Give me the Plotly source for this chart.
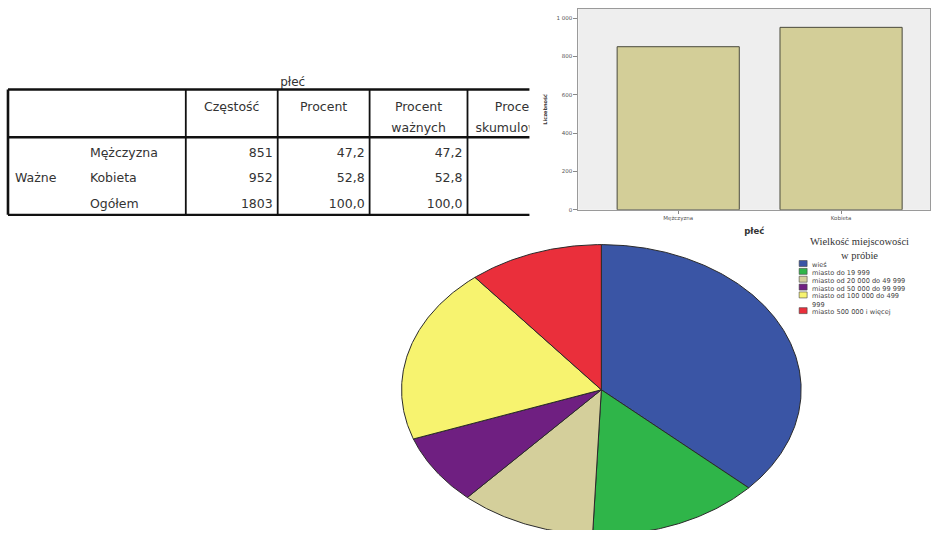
import textwrap
import numpy as np
import plotly.graph_objects as go

# ---------------- data ----------------
table_title = "płeć"
group_label = "Ważne"
row_labels = ["Mężczyzna", "Kobieta", "Ogółem"]
header_line1 = ["Częstość", "Procent", "Procent", "Procent"]
header_line2 = ["", "", "ważnych", "skumulowany"]
frequency = ["851", "952", "1803"]
percent = ["47,2", "52,8", "100,0"]
valid_percent = ["47,2", "52,8", "100,0"]

bar_categories = ["Mężczyzna", "Kobieta"]
bar_counts = [851, 952]
bar_y_ticks = [0, 200, 400, 600, 800, 1000]
bar_x_title = "płeć"
bar_y_title = "Liczebność"

pie_title = "Wielkość miejscowości<br>w próbie"
pie_categories = [
    "wieś",
    "miasto do 19 999",
    "miasto od 20 000 do 49 999",
    "miasto od 50 000 do 99 999",
    "miasto od 100 000 do 499 999",
    "miasto 500 000 i więcej",
]
pie_shares = [36.8, 13.9, 11.0, 7.8, 19.6, 10.9]
pie_colors = ["#3a55a5", "#2fb549", "#d4cf9b", "#6f1f81", "#f7f36f", "#ea2f3b"]

# ---------------- layout constants (pixels) ----------------
W, H = 931, 533
TFONT = "DejaVu Sans"
TCOL = "#333333"
col_edges = [186, 278, 370, 468, 570]          # table column boundaries
row_y = [155, 180, 206]                         # table body rows
hdr_y = [108, 130]                              # header text lines
tbl_top, tbl_hdr, tbl_bot, tbl_left = 90, 138, 216, 8

fig = go.Figure()

# ---------------- table (xaxis3 / yaxis3, pixel units) ----------------
col_centers = [(col_edges[i] + col_edges[i + 1]) / 2 for i in range(4)]
for line, yy in zip([header_line1, header_line2], hdr_y):
    fig.add_trace(go.Scatter(
        x=col_centers, y=[yy] * 4, text=line, mode="text",
        textposition="middle center", xaxis="x3", yaxis="y3",
        textfont=dict(family=TFONT, size=12.5, color=TCOL),
        hoverinfo="skip", showlegend=False))
fig.add_trace(go.Scatter(
    x=[90] * 3, y=row_y, text=row_labels, mode="text",
    textposition="middle right", xaxis="x3", yaxis="y3",
    textfont=dict(family=TFONT, size=12.5, color=TCOL),
    hoverinfo="skip", showlegend=False))
fig.add_trace(go.Scatter(
    x=[15], y=[row_y[1]], text=[group_label], mode="text",
    textposition="middle right", xaxis="x3", yaxis="y3",
    textfont=dict(family=TFONT, size=12.5, color=TCOL),
    hoverinfo="skip", showlegend=False))
for ci, col in enumerate([frequency, percent, valid_percent]):
    fig.add_trace(go.Scatter(
        x=[col_edges[ci + 1] - 5] * 3, y=row_y, text=col, mode="text",
        textposition="middle left", xaxis="x3", yaxis="y3",
        textfont=dict(family=TFONT, size=12.5, color=TCOL),
        hoverinfo="skip", showlegend=False))
fig.add_trace(go.Scatter(
    x=[293], y=[83], text=[table_title], mode="text",
    textposition="middle center", xaxis="x3", yaxis="y3",
    textfont=dict(family=TFONT, size=12, color=TCOL),
    hoverinfo="skip", showlegend=False))

shapes = []
def tline(x0, y0, x1, y1, w):
    shapes.append(dict(type="line", xref="x3", yref="y3", x0=x0, y0=y0,
                       x1=x1, y1=y1, line=dict(color="#111", width=w)))
tline(tbl_left, tbl_top, 700, tbl_top, 2.6)
tline(tbl_left, tbl_hdr, 700, tbl_hdr, 2.4)
tline(tbl_left, tbl_bot, 700, tbl_bot, 2.2)
tline(tbl_left, tbl_top, tbl_left, tbl_bot, 2.6)
for xe in col_edges[:4]:
    tline(xe, tbl_top, xe, tbl_bot, 1.8)

# ---------------- bar chart (xaxis / yaxis) ----------------
fig.add_trace(go.Bar(
    x=bar_categories, y=bar_counts, width=0.75,
    marker=dict(color="#d3ce98", line=dict(color="#4a4a3c", width=1)),
    hoverinfo="skip", showlegend=False))
shapes.append(dict(type="rect", xref="x domain", yref="y domain",
                   x0=0, x1=1, y0=0, y1=1, layer="below",
                   fillcolor="#eeeeee", line=dict(width=0)))

# ---------------- pie as ellipse (xaxis2 / yaxis2, pixel units) ----------------
cx, cy, rx, ry = 602, 392, 200, 146
total = sum(pie_shares)
start = 0.0
for name, share, color in zip(pie_categories, pie_shares, pie_colors):
    a0 = 360 * start / total
    a1 = 360 * (start + share) / total
    n = max(int((a1 - a0) / 0.5), 2)
    th = np.radians(np.linspace(a0, a1, n))
    xs = np.concatenate([[cx], cx + rx * np.sin(th), [cx]])
    ys = np.concatenate([[cy], cy - ry * np.cos(th), [cy]])
    fig.add_trace(go.Scatter(
        x=xs, y=ys, mode="lines", fill="toself", fillcolor=color,
        line=dict(color="#2a2a2a", width=1), name=name,
        xaxis="x2", yaxis="y2", hoverinfo="name", showlegend=False))
    start += share

# ---------------- manual compact legend for the pie ----------------
annotations = []
annotations.append(dict(
    x=860 / W, y=1 - 250 / H, xref="paper", yref="paper", text=pie_title,
    showarrow=False, xanchor="center", yanchor="middle",
    font=dict(family="Liberation Serif", size=10.5, color="#333")))
ly = 265
line_h = 7.9
for name, color in zip(pie_categories, pie_colors):
    lines = textwrap.wrap(name, 26)
    shapes.append(dict(type="rect", xref="paper", yref="paper",
                       x0=800 / W, x1=808 / W,
                       y0=1 - (ly + 3) / H, y1=1 - (ly - 3) / H,
                       fillcolor=color, line=dict(color="#444", width=0.6)))
    annotations.append(dict(
        x=811 / W, y=1 - (ly - 4.5) / H, xref="paper", yref="paper",
        text="<br>".join(lines), showarrow=False, xanchor="left", yanchor="top",
        align="left",
        font=dict(family=TFONT, size=6.6, color="#444")))
    ly += line_h * len(lines)

fig.update_layout(
    width=W, height=H, margin=dict(l=0, r=0, t=0, b=0),
    paper_bgcolor="white", plot_bgcolor="rgba(0,0,0,0)",
    showlegend=False, shapes=shapes, annotations=annotations,
    xaxis=dict(domain=[579 / W, 1], range=[-0.613, 1.546], type="category",
               showline=True, linecolor="#9a9a9a", linewidth=1, mirror=True,
               ticks="outside", ticklen=3, tickcolor="#888",
               tickfont=dict(family=TFONT, size=5.5, color="#555"),
               title=dict(text="<b>" + bar_x_title + "</b>", standoff=6,
                          font=dict(family=TFONT, size=8.5, color="#333")),
               showgrid=False, zeroline=False, anchor="y"),
    yaxis=dict(domain=[1 - 211 / H, 1 - 9 / H], range=[0, 1048],
               tickvals=bar_y_ticks,
               ticktext=[f"{v:,}".replace(",", " ") for v in bar_y_ticks],
               showline=True, linecolor="#9a9a9a", linewidth=1, mirror=True,
               ticks="outside", ticklen=4, tickcolor="#888",
               tickfont=dict(family=TFONT, size=5.5, color="#555"),
               title=dict(text="<b>" + bar_y_title + "</b>", standoff=8,
                          font=dict(family=TFONT, size=5, color="#333")),
               showgrid=False, zeroline=False, anchor="x"),
    xaxis2=dict(domain=[380 / W, 1], range=[380, 931], visible=False,
                anchor="y2", fixedrange=True),
    yaxis2=dict(domain=[0, 1 - 236 / H], range=[533, 236], visible=False,
                anchor="x2", fixedrange=True),
    xaxis3=dict(domain=[0, 530 / W], range=[0, 530], visible=False,
                anchor="y3"),
    yaxis3=dict(domain=[1 - 222 / H, 1 - 70 / H], range=[222, 70],
                visible=False, anchor="x3"),
)

fig.write_html("out.html")
